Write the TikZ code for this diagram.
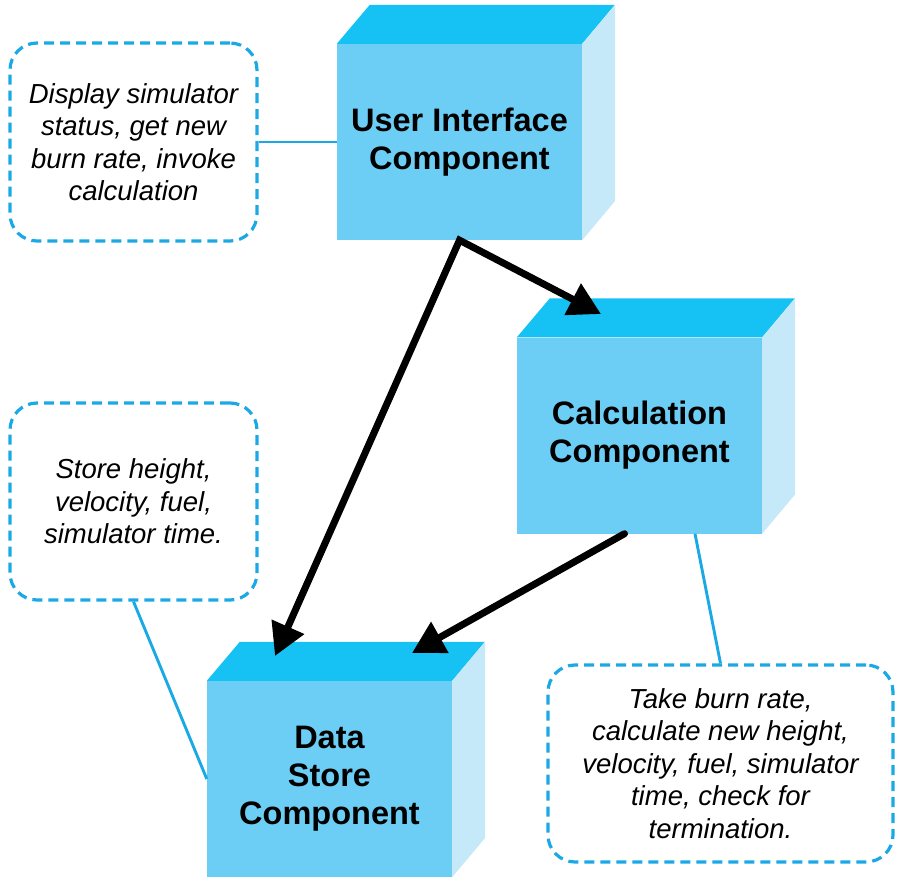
\documentclass[tikz,border=0pt]{standalone}
\usepackage{fontspec}
\setmainfont{Liberation Sans}
\usetikzlibrary{arrows.meta,calc}
\definecolor{topc}{RGB}{22,193,243}
\definecolor{frontc}{RGB}{109,206,245}
\definecolor{sidec}{RGB}{198,233,250}
\definecolor{linec}{RGB}{27,169,230}
\newcommand\mycube[1]{%
  \fill[topc] (#1.north west) -- ++(33,-39) -- ++(245,0) -- (#1.north east) -- cycle;
  \fill[sidec] (#1.north east) -- ++(33,-39) -- ++(0,196) -- (#1.south east) -- cycle;}
\begin{document}
\begin{tikzpicture}[x=1pt,y=-1pt,
  face/.style={fill=frontc, draw=none, minimum width=245pt, minimum height=196pt,
    inner sep=0pt, align=center, font=\fontsize{32.5}{38}\selectfont\bfseries},
  note/.style={draw=linec, line width=3.2pt, dash pattern=on 10pt off 6pt,
    rounded corners=27pt, inner sep=0pt, align=center,
    font=\fontsize{27.5}{32.5}\selectfont\itshape},
  link/.style={draw=linec, line width=2.9pt},
  flow/.style={line width=7pt, line cap=round, line join=miter, draw=black},
  tip/.style={Triangle[length=32pt,width=34pt]}]
\useasboundingbox (0,0) rectangle (906,883);
% cubes
\node[face] (ui) at (459.5,142) {User Interface\\Component};
\mycube{ui}
\node[face] (calc) at (639.5,435.5) {Calculation\\Component};
\mycube{calc}
\node[face] (data) at (329.5,779) {Data\\Store\\Component};
\mycube{data}
% notes
\node[note, minimum width=247pt, minimum height=198pt] (n1) at (133.5,142)
  {Display simulator\\status, get new\\burn rate, invoke\\calculation};
\node[note, minimum width=247pt, minimum height=197pt] (n2) at (133.5,501.5)
  {Store height,\\velocity, fuel,\\simulator time.};
\node[note, minimum width=345pt, minimum height=197pt] (n3) at (720.5,763.5)
  {Take burn rate,\\calculate new height,\\velocity, fuel, simulator\\time, check for\\termination.};
% links
\draw[link] (n1.east) -- (ui.west);
\draw[link] (n2.south) -- (data.west);
\coordinate (calclink) at ($(calc.south)+(55.5,0)$);
\draw[link] (n3.north) -- (calclink);
% flows
\coordinate (calctip) at (601,314);
\coordinate (datatipA) at (275,656);
\coordinate (datatipB) at (412,653);
\coordinate (calcout) at ($(calc.south)+(-15,0)$);
\draw[flow, {Triangle[length=32pt,width=34pt]}-{Triangle[length=32pt,width=34pt]}]
  (calctip) -- (ui.south) -- (datatipA);
\draw[flow, -{Triangle[length=32pt,width=34pt]}] (calcout) -- (datatipB);
\end{tikzpicture}
\end{document}
